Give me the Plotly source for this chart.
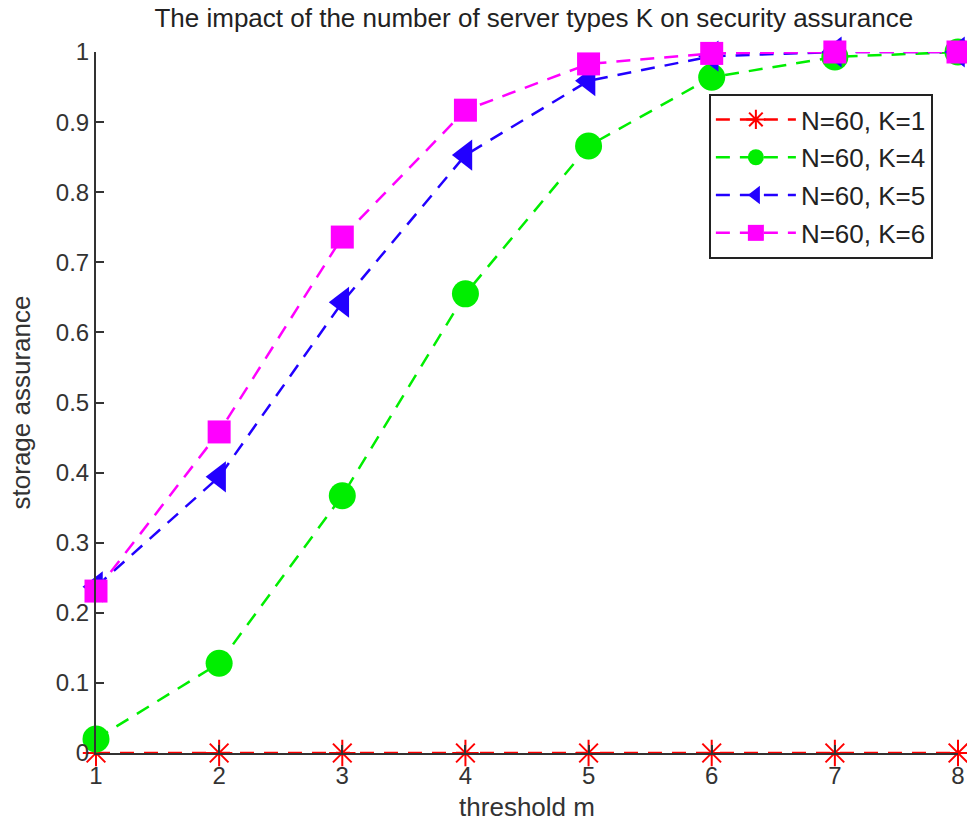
import plotly.graph_objects as go

m = [1, 2, 3, 4, 5, 6, 7, 8]
k1 = [0, 0, 0, 0, 0, 0, 0, 0]
k4 = [0.020, 0.128, 0.367, 0.655, 0.866, 0.964, 0.993, 1.0]
k5 = [0.237, 0.394, 0.643, 0.853, 0.959, 0.994, 1.0, 1.0]
k6 = [0.231, 0.458, 0.736, 0.917, 0.983, 0.998, 1.0, 1.0]
names = ["N=60, K=1", "N=60, K=4", "N=60, K=5", "N=60, K=6"]
colors = ["#FF0000", "#00EE00", "#2200FF", "#FF00FF"]
symbols = ["asterisk-open", "circle", "triangle-left", "square"]
sizes = [22, 27, 27, 23]
ytick = [i / 10 for i in range(11)]
ylab = ["0", "0.1", "0.2", "0.3", "0.4", "0.5", "0.6", "0.7", "0.8", "0.9", "1"]

fig = go.Figure()
for ys, nm, c, s, sz in zip([k1, k4, k5, k6], names, colors, symbols, sizes):
    fig.add_trace(go.Scatter(
        x=m, y=ys, name=nm, legendgroup=nm, mode="lines+markers", cliponaxis=False,
        line=dict(color=c, width=2.5, dash="14px,10px"),
        marker=dict(symbol=s, size=sz, color=c, line=dict(color=c, width=2 if s == "asterisk-open" else 0)),
    ))

fam = "Liberation Sans, Arial, sans-serif"
tfont = dict(family=fam, size=24, color="#333333")
afont = dict(family=fam, size=26, color="#333333")
fig.update_layout(
    width=967, height=822,
    margin=dict(l=96, r=9, t=52, b=69, autoexpand=False),
    paper_bgcolor="white", plot_bgcolor="white",
    font=tfont,
    title=dict(text="The impact of the number of server types K on security assurance",
               x=0.552, xanchor="center", y=0.978, yanchor="middle",
               font=dict(family=fam, size=26, color="#222222")),
    xaxis=dict(range=[1, 8], tickvals=m, ticks="inside", ticklen=8, tickwidth=1.5,
               tickcolor="#333333", showline=True, linecolor="#333333", linewidth=2,
               showgrid=False, zeroline=False, automargin=False, tickfont=tfont,
               title=dict(text="threshold m", standoff=12, font=afont)),
    yaxis=dict(range=[0, 1], tickvals=ytick, ticktext=ylab, ticks="inside", ticklen=8,
               tickwidth=1.5, tickcolor="#333333", showline=True, linecolor="#333333",
               linewidth=2, showgrid=False, zeroline=False, automargin=False, tickfont=tfont,
               title=dict(text="storage assurance", standoff=18, font=afont)),
    legend=dict(x=0.711, y=0.94, xanchor="left", yanchor="top",
                bgcolor="white", bordercolor="#222222", borderwidth=2,
                font=dict(family=fam, size=26, color="#222222"),
                itemwidth=80, tracegroupgap=1),
    showlegend=True,
)
fig.write_html("out.html")
